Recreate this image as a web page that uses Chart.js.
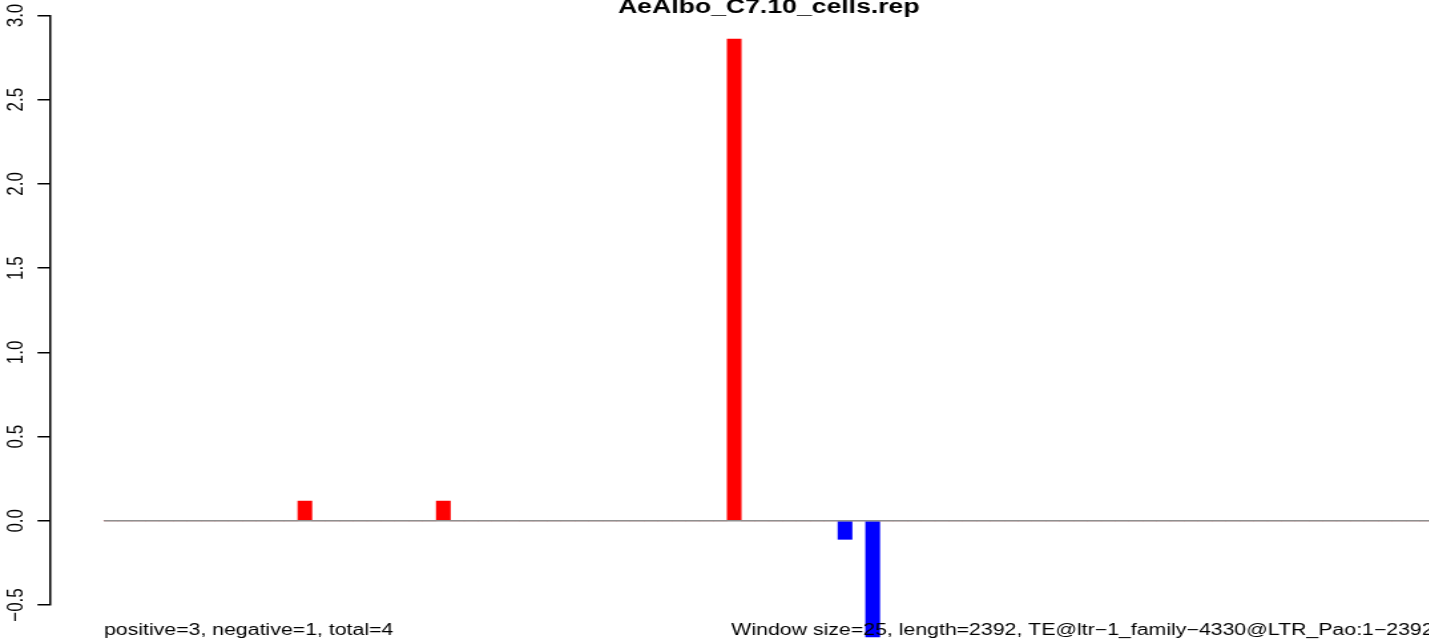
<!DOCTYPE html>
<html><head><meta charset="utf-8">
<script src="https://cdn.jsdelivr.net/npm/chart.js@4.4.1/dist/chart.umd.min.js"></script>
<style>
html,body{margin:0;padding:0;background:#fff;overflow:hidden;width:1429px;height:641px;}
#wrap{position:absolute;left:0;top:0;width:1130px;height:641px;transform:scaleX(1.33);transform-origin:0 0;}
canvas{display:block;}
</style></head><body>
<div id="wrap"><canvas id="c" width="1130" height="641"></canvas></div>
<script>
const titleText = 'AeAlbo_C7.10_cells.rep';
const leftNote = 'positive=3, negative=1, total=4';
const rightNote = 'Window size=25, length=2392, TE@ltr\u22121_family\u22124330@LTR_Pao:1\u22122392';

const windows = [
  1,2,3,4,5,6,7,8,9,10,11,12,
  13,14,15,16,17,18,19,20,21,22,23,24,
  25,26,27,28,29,30,31,32,33,34,35,36,
  37,38,39,40,41,42,43,44,45,46,47,48,
  49,50,51,52,53,54,55,56,57,58,59,60,
  61,62,63,64,65,66,67,68,69,70,71,72,
  73,74,75,76,77,78,79,80,81,82,83,84,
  85,86,87,88,89,90,91,92,93,94,95,96
];
const values = [
  0,0,0,0,0,0,0,0,0,0,0,0,
  0,0,0.117,0,0,0,0,0,0,0,0,0,
  0.117,0,0,0,0,0,0,0,0,0,0,0,
  0,0,0,0,0,0,0,0,0,2.86,0,0,
  0,0,0,0,0,-0.11,0,-0.69,0,0,0,0,
  0,0,0,0,0,0,0,0,0,0,0,0,
  0,0,0,0,0,0,0,0,0,0,0,0,
  0,0,0,0,0,0,0,0,0,0,0,0
];
const yTickValues = [-0.5, 0, 0.5, 1, 1.5, 2, 2.5, 3];
const yTickLabels = ['\u22120.5', '0.0', '0.5', '1.0', '1.5', '2.0', '2.5', '3.0'];

const FONT = '"Liberation Sans", Arial, Helvetica, sans-serif';
const PAD = 0.04 * windows.length;

const notes = {
  id: 'notes',
  afterDatasetsDraw(chart) {
    const {ctx, scales: {x, y}} = chart;
    const y0 = y.getPixelForValue(0);
    ctx.save();
    ctx.strokeStyle = '#8f8f8f';
    ctx.lineWidth = 1.5;
    ctx.beginPath();
    ctx.moveTo(x.getPixelForValue(0), y0);
    ctx.lineTo(x.getPixelForValue(windows.length), y0);
    ctx.stroke();
    ctx.restore();
  },
  afterDraw(chart) {
    const {ctx, chartArea, scales: {x}} = chart;
    ctx.save();
    ctx.fillStyle = '#000';
    ctx.textBaseline = 'alphabetic';
    ctx.font = 'bold 20px ' + FONT;
    ctx.textAlign = 'center';
    ctx.fillText(titleText, (chartArea.left + chartArea.right) / 2, 12.5);
    ctx.font = '16px ' + FONT;
    ctx.textAlign = 'left';
    ctx.fillText(leftNote, x.getPixelForValue(0), 635);
    ctx.textAlign = 'right';
    ctx.fillText(rightNote, x.getPixelForValue(windows.length), 635);
    ctx.restore();
  }
};

new Chart(document.getElementById('c').getContext('2d'), {
  type: 'bar',
  data: {
    datasets: [{
      data: windows.map((w, i) => ({x: w - 0.5, y: values[i]})),
      backgroundColor: values.map(v => v >= 0 ? '#FF0000' : '#0000FF'),
      borderWidth: 0,
      barPercentage: 1,
      categoryPercentage: 1,
      clip: false
    }]
  },
  options: {
    responsive: false,
    animation: false,
    devicePixelRatio: 1,
    layout: {padding: {top: 15.5, bottom: 36, left: 0, right: 12.1}},
    plugins: {legend: {display: false}, tooltip: {enabled: false}, title: {display: false}},
    scales: {
      x: {type: 'linear', display: false, offset: false, min: -PAD, max: windows.length + PAD},
      y: {
        min: -0.5, max: 3,
        afterBuildTicks: s => { s.ticks = yTickValues.map(v => ({value: v})); },
        afterFit: s => { s.width = 38.2; s.paddingTop = 0; s.paddingBottom = 0; },
        border: {display: true, color: '#000', width: 1.5},
        grid: {drawOnChartArea: false, drawTicks: true, tickLength: 10, tickColor: '#000', lineWidth: 1.5},
        ticks: {
          minRotation: 90, maxRotation: 90, crossAlign: 'center', padding: -1,
          color: '#000', font: {family: FONT, size: 17},
          callback: (v, i) => yTickLabels[i]
        }
      }
    }
  },
  plugins: [notes]
});
</script>
</body></html>
